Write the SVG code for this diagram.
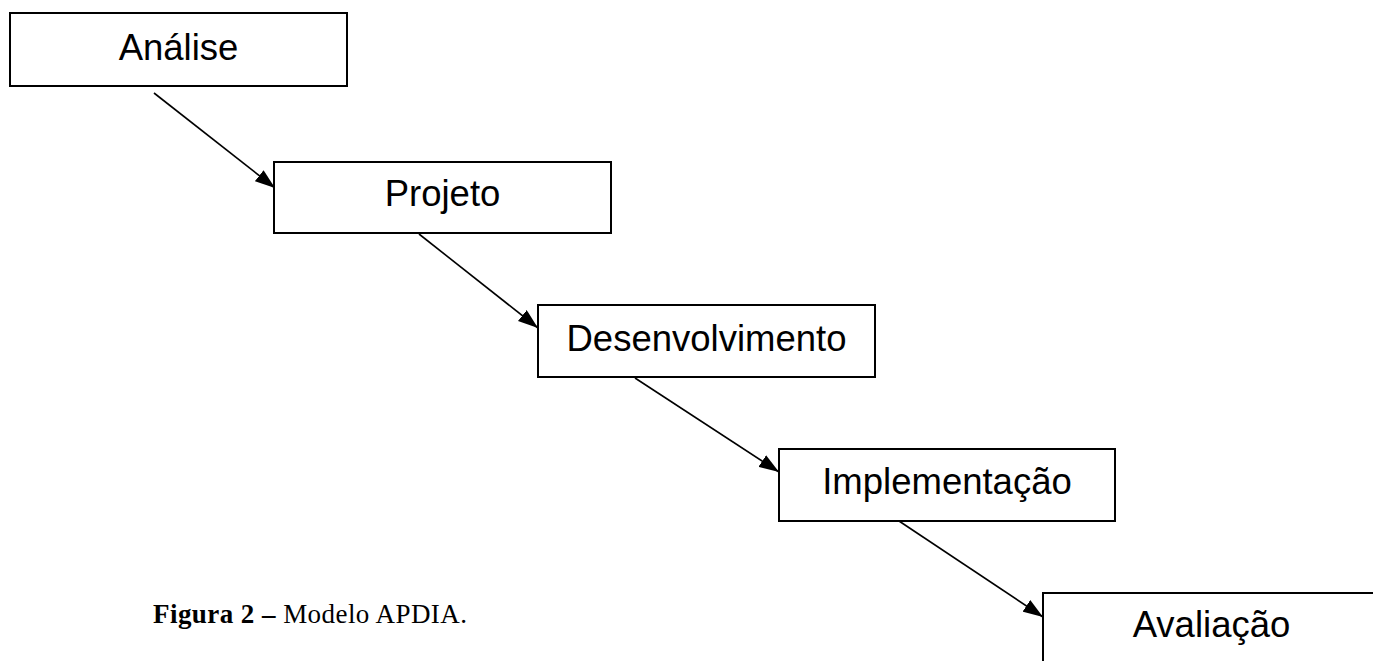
<svg xmlns="http://www.w3.org/2000/svg" width="1373" height="661" viewBox="0 0 1373 661">
  <style>
    .box { fill: #ffffff; stroke: #000000; stroke-width: 2; }
    .label { font-family: "Liberation Sans", Arial, sans-serif; font-size: 36.5px; fill: #000000; text-anchor: middle; }
    .conn { stroke: #000000; stroke-width: 1.6; fill: none; marker-end: url(#arrow); }
    .caption { font-family: "Liberation Serif", "DejaVu Serif", serif; font-size: 27px; fill: #000000; }
  </style>
  <defs>
    <marker id="arrow" viewBox="0 0 20 14" refX="20" refY="7" markerWidth="20" markerHeight="14" markerUnits="userSpaceOnUse" orient="auto">
      <path d="M0,0 L20,7 L0,14 Z" fill="#000000"/>
    </marker>
  </defs>
  <rect width="1373" height="661" fill="#ffffff"/>

  <g id="connectors">
    <line class="conn" x1="154" y1="93" x2="275" y2="188"/>
    <line class="conn" x1="419" y1="234" x2="538" y2="328"/>
    <line class="conn" x1="635" y1="378" x2="779" y2="472"/>
    <line class="conn" x1="899" y1="521" x2="1043" y2="617"/>
  </g>

  <g id="node-analise">
    <rect class="box" x="10" y="13" width="337" height="73"/>
    <text class="label" x="178.5" y="60">Análise</text>
  </g>
  <g id="node-projeto">
    <rect class="box" x="274" y="162" width="337" height="71"/>
    <text class="label" x="442.5" y="206">Projeto</text>
  </g>
  <g id="node-desenvolvimento">
    <rect class="box" x="538" y="305" width="337" height="72"/>
    <text class="label" x="706.5" y="351">Desenvolvimento</text>
  </g>
  <g id="node-implementacao">
    <rect class="box" x="779" y="449" width="336" height="72"/>
    <text class="label" x="947" y="494">Implementação</text>
  </g>
  <g id="node-avaliacao">
    <rect class="box" x="1043" y="593" width="337" height="72"/>
    <text class="label" x="1211.5" y="637">Avaliação</text>
  </g>

  <text class="caption" x="153" y="623" textLength="314" lengthAdjust="spacing"><tspan font-weight="bold">Figura 2 – </tspan>Modelo APDIA.</text>
</svg>
